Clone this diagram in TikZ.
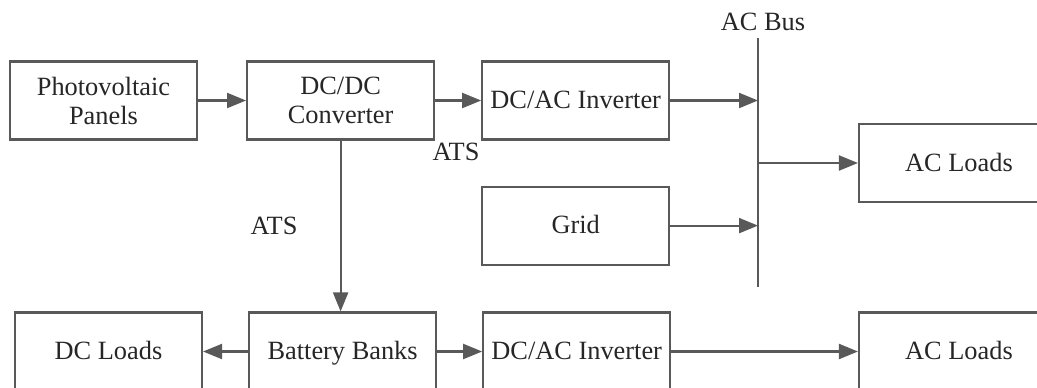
\documentclass[tikz,border=0pt]{standalone}
\usepackage{fontspec}
\setmainfont{Liberation Serif}
\usetikzlibrary{arrows.meta,positioning}

\definecolor{linegray}{HTML}{595959}

\begin{document}
\begin{tikzpicture}[node distance=0.9cm, auto,
    blk/.style={rectangle, draw=linegray, line width=1.2pt, minimum width=3.74cm, minimum height=1.56cm, align=center, font=\fontsize{15}{16.5}\selectfont, text=black!85},
    one/.style={blk, text height=13pt, text depth=3.5pt},
    lbl/.style={font=\fontsize{15}{16.5}\selectfont, text=black!85},
    ar/.style={draw=linegray, line width=1.2pt, -{Triangle[length=0.38cm, width=0.3cm]}, color=linegray}]
    \useasboundingbox (0,0) rectangle (20.74,-7.76);
    \clip (0,0) rectangle (20.74,-7.76);
    % top row
    \node [blk] (pv) at (2.07,-2.01) {Photovoltaic\\Panels};
    \node [blk, right=0.96cm of pv] (dcdc) {DC/DC\\Converter};
    \node [one, right=0.92cm of dcdc] (invtop) {DC/AC Inverter};
    \node [one, below=0.9cm of invtop] (grid) {Grid};
    \node [one, minimum width=4cm] (acltop) at (19.18,-3.26) {AC Loads};
    % bottom row
    \node [one] (dcl) at (2.17,-7.03) {DC Loads};
    \node [one, right=of dcl] (bat) {Battery Banks};
    \node [one, right=of bat] (invbot) {DC/AC Inverter};
    \node [one, minimum width=4cm] (aclbot) at (19.18,-7.03) {AC Loads};
    % ac bus
    \coordinate (bustop) at (15.16,-0.76);
    \coordinate (busbot) at (15.16,-5.74);
    \draw [draw=linegray, line width=1.2pt] (bustop) -- (busbot);
    \node [lbl] (busname) at (15.26,-0.44) {AC Bus};
    \node [lbl] (ats1) at (9.12,-3.04) {ATS};
    \node [lbl] (ats2) at (5.48,-4.52) {ATS};
    \draw [ar] (pv) -- (dcdc);
    \draw [ar] (dcdc) -- (invtop);
    \draw [ar] (dcdc.south) -- (dcdc.south |- bat.north);
    \draw [ar] (invtop.east) -- (invtop.east -| bustop);
    \draw [ar] (grid.east) -- (grid.east -| bustop);
    \draw [ar] (acltop.west -| bustop) -- (acltop.west);
    \draw [ar] (bat) -- (dcl);
    \draw [ar] (bat) -- (invbot);
    \draw [ar] (invbot) -- (aclbot);
\end{tikzpicture}
\end{document}
